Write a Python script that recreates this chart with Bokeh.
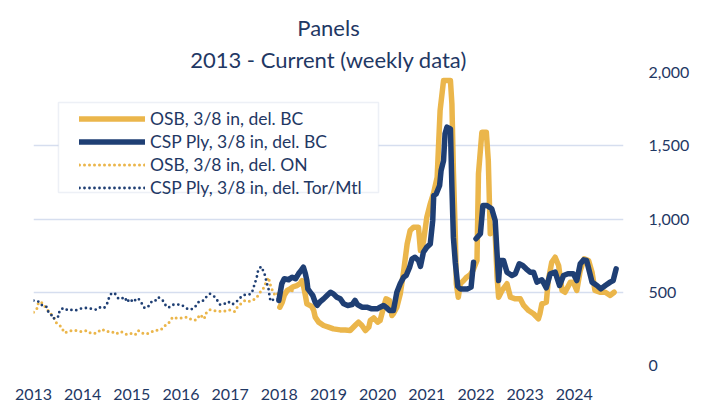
import math
from bokeh.plotting import figure
from bokeh.models import (Range1d, FixedTicker, NumeralTickFormatter, Legend, LegendItem, Title, BoxAnnotation)
from bokeh.embed import file_html
from bokeh.resources import INLINE

NAN = float("nan")

# ---------------- data (decimal year, price) ----------------
osb_on_year = [2013.00, 2013.08, 2013.10, 2013.18, 2013.27, 2013.34, 2013.41, 2013.47, 2013.56, 2013.63,
               2013.71, 2013.78, 2013.85, 2013.97, 2014.08, 2014.17, 2014.27, 2014.39, 2014.48, 2014.59,
               2014.68, 2014.78, 2014.90, 2015.00, 2015.07, 2015.13, 2015.24, 2015.35, 2015.46, 2015.59,
               2015.68, 2015.76, 2015.83, 2015.91, 2015.98, 2016.07, 2016.13, 2016.22, 2016.31, 2016.39,
               2016.47, 2016.52, 2016.59, 2016.67, 2016.76, 2016.86, 2016.98, 2017.09, 2017.15, 2017.23,
               2017.30, 2017.37, 2017.44, 2017.53, 2017.61, 2017.67, 2017.73, 2017.78, 2017.81, 2017.84,
               2017.88, 2017.91, 2017.95, 2018.10, 2018.30]
osb_on_val = [364, 393, 432, 427, 386, 357, 330, 289, 266, 223,
              232, 239, 239, 232, 239, 220, 220, 248, 232, 232,
              216, 232, 211, 220, 211, 239, 216, 220, 239, 243,
              273, 295, 330, 323, 323, 330, 330, 311, 311, 348,
              318, 364, 380, 375, 370, 370, 380, 368, 402, 425,
              443, 436, 443, 459, 500, 523, 568, 602, 561, 523,
              507, 477, 489, 500, 512]

ply_tm_year = [2013.00, 2013.09, 2013.18, 2013.26, 2013.30, 2013.35, 2013.41, 2013.44, 2013.51, 2013.53,
               2013.61, 2013.71, 2013.78, 2013.85, 2013.93, 2014.03, 2014.14, 2014.22, 2014.30, 2014.36,
               2014.44, 2014.50, 2014.54, 2014.59, 2014.66, 2014.73, 2014.78, 2014.86, 2014.90, 2014.96,
               2015.03, 2015.09, 2015.13, 2015.20, 2015.26, 2015.34, 2015.41, 2015.47, 2015.54, 2015.63,
               2015.71, 2015.78, 2015.85, 2015.91, 2016.00, 2016.08, 2016.15, 2016.24, 2016.31, 2016.37,
               2016.46, 2016.52, 2016.59, 2016.67, 2016.75, 2016.79, 2016.86, 2016.96, 2017.04, 2017.12,
               2017.20, 2017.28, 2017.37, 2017.44, 2017.47, 2017.51, 2017.55, 2017.57, 2017.63, 2017.67,
               2017.71, 2017.74, 2017.78, 2017.80, 2017.82, 2017.86, 2017.93, 2017.98, 2018.10]
ply_tm_val = [443, 439, 409, 402, 368, 352, 318, 334, 334, 375,
              393, 375, 380, 375, 386, 393, 391, 382, 382, 398,
              393, 425, 466, 495, 489, 455, 455, 466, 432, 455,
              432, 455, 459, 425, 391, 405, 439, 439, 466, 443,
              398, 398, 416, 416, 416, 398, 382, 386, 409, 439,
              443, 470, 489, 473, 439, 416, 416, 436, 416, 432,
              461, 482, 482, 493, 527, 568, 614, 652, 675, 648,
              614, 568, 523, 477, 439, 448, 448, 455, 470]

osb_bc_year = [2018.01, 2018.06, 2018.10, 2018.16, 2018.22, 2018.29, 2018.36, 2018.43, 2018.46, 2018.49,
               2018.53, 2018.56, 2018.62, 2018.66, 2018.70, 2018.73, 2018.80, 2018.90, 2019.00, 2019.10,
               2019.24, 2019.34, 2019.44, 2019.54, 2019.61, 2019.68, 2019.75, 2019.82, 2019.85, 2019.92,
               2020.00, 2020.05, 2020.12, 2020.17, 2020.24, 2020.29, 2020.32, 2020.39, 2020.46, 2020.53,
               2020.60, 2020.66, 2020.73, 2020.83, 2020.87, 2020.93, 2021.00, 2021.07, 2021.14, 2021.21,
               2021.27, 2021.34, 2021.48, 2021.51, 2021.54, 2021.58, 2021.60, 2021.64, 2021.68, 2021.75,
               2021.81, 2021.88, 2021.94, 2022.02, 2022.05, 2022.12, 2022.21, 2022.25, 2022.29, 2022.33,
               2022.39, 2022.43, 2022.46, 2022.53, 2022.63, 2022.70, 2022.80, 2022.90, 2022.97, 2023.07,
               2023.17, 2023.27, 2023.30, 2023.34, 2023.43, 2023.47, 2023.54, 2023.61, 2023.68, 2023.75,
               2023.81, 2023.92, 2023.98, 2024.05, 2024.12, 2024.20, 2024.29, 2024.36, 2024.42, 2024.52,
               2024.63, 2024.73, 2024.81]
osb_bc_val = [398, 432, 478, 512, 523, 539, 546, 562, 580, 546,
              478, 421, 410, 403, 375, 330, 296, 273, 262, 250,
              243, 243, 239, 273, 296, 273, 239, 262, 307, 325,
              296, 307, 398, 455, 444, 341, 353, 398, 489, 648,
              830, 921, 944, 944, 785, 842, 1012, 1104, 1180, 1285,
              1741, 1945, 1945, 1786, 1331, 876, 558, 466, 558, 580,
              603, 620, 650, 717, 1308, 1593, 1593, 1399, 899, 950,
              900, 600, 466, 512, 558, 466, 455, 455, 410, 375,
              353, 319, 353, 421, 432, 580, 705, 739, 683, 512,
              500, 569, 569, 512, 648, 728, 717, 637, 512, 500,
              500, 478, 500]

ply_bc_year = [2017.99, 2018.05, 2018.10, 2018.19, 2018.26, 2018.33, 2018.39, 2018.44, 2018.49, 2018.53,
               2018.56, 2018.58, 2018.63, 2018.68, 2018.73, 2018.77, 2018.82, 2018.90, 2018.97, 2019.04,
               2019.10, 2019.17, 2019.24, 2019.31, 2019.39, 2019.48, 2019.54, 2019.59, 2019.68, 2019.78,
               2019.88, 2019.99, 2020.05, 2020.12, 2020.17, 2020.24, 2020.32, 2020.39, 2020.46, 2020.53,
               2020.58, 2020.65, 2020.70, 2020.76, 2020.83, 2020.87, 2020.93, 2021.00, 2021.07, 2021.12,
               2021.14, 2021.19, 2021.26, 2021.29, 2021.34, 2021.37, 2021.41, 2021.48, 2021.51, 2021.54,
               2021.58, 2021.63, 2021.68, 2021.75, 2021.83, 2021.90, 2021.95, 2021.97, 2022.00, 2022.09,
               2022.14, 2022.22, 2022.32, 2022.39, 2022.46, 2022.49, 2022.56, 2022.63, 2022.73, 2022.80,
               2022.88, 2022.95, 2023.02, 2023.10, 2023.17, 2023.24, 2023.34, 2023.43, 2023.51, 2023.61,
               2023.70, 2023.78, 2023.87, 2023.98, 2024.05, 2024.12, 2024.19, 2024.25, 2024.36, 2024.46,
               2024.54, 2024.63, 2024.73, 2024.79, 2024.85]
ply_bc_val = [444, 558, 592, 585, 603, 592, 626, 648, 671, 626,
              580, 523, 500, 478, 432, 410, 432, 455, 478, 500,
              489, 466, 455, 421, 410, 416, 444, 416, 398, 398,
              387, 387, 398, 410, 398, 375, 375, 500, 560, 603,
              614, 671, 728, 739, 717, 676, 773, 808, 830, 990,
              1160, 1171, 1229, 1331, 1399, 1581, 1627, 1615, 1217, 876,
              700, 540, 523, 523, 523, 535, 705, NAN, 865, 899,
              1092, 1092, 1070, 990, 580, 717, 717, 637, 614, 626,
              694, 683, 660, 637, 637, 569, 585, 530, 626, 637,
              546, 614, 626, 626, 580, 694, 721, 717, 569, 546,
              523, 546, 569, 580, 660]

year_ticks = list(range(2013, 2025))
value_ticks = [0, 500, 1000, 1500, 2000]

series_labels = ["OSB, 3/8 in, del. BC", "CSP Ply, 3/8 in, del. BC",
                 "OSB, 3/8 in, del. ON", "CSP Ply, 3/8 in, del. Tor/Mtl"]

# ---------------- style ----------------
GOLD = "#EBB64B"
NAVY = "#1F3F74"
TEXT = "#1F3864"
GRID = "#D6DEEF"
FONT = "Lato"

p = figure(width=705, height=402, x_range=Range1d(2013, 2025), y_range=Range1d(0, 2000),
           output_backend="svg", toolbar_location=None, y_axis_location="right",
           min_border_left=33, min_border_right=82, min_border_top=72, min_border_bottom=37)
p.title = None
p.outline_line_color = None
p.background_fill_color = "white"
p.border_fill_color = "white"

t2 = Title(text="2013 - Current (weekly data)", align="center", text_font=FONT, offset=4,
           text_font_size="22px", text_font_style="normal", text_color=TEXT, standoff=0)
t1 = Title(text="Panels", align="center", text_font=FONT, offset=4,
           text_font_size="22px", text_font_style="normal", text_color=TEXT, standoff=5)
p.add_layout(t2, "above")
p.add_layout(t1, "above")

p.xgrid.grid_line_color = None
p.ygrid.grid_line_color = GRID
p.ygrid.grid_line_width = 1.5

xa = p.xaxis[0]
xa.ticker = FixedTicker(ticks=year_ticks)
xa.major_label_overrides = {y: str(y) for y in year_ticks}
ya = p.yaxis[0]
ya.ticker = FixedTicker(ticks=value_ticks)
ya.formatter = NumeralTickFormatter(format="0,0")
for ax in (xa, ya):
    ax.axis_line_color = None
    ax.major_tick_line_color = None
    ax.minor_tick_line_color = None
    ax.major_label_text_font = FONT
    ax.major_label_text_font_size = "16px"
    ax.major_label_text_color = TEXT
xa.major_label_standoff = 17
ya.major_label_standoff = 19

r3 = p.line(osb_on_year, osb_on_val, line_color=GOLD, line_width=3, line_dash="0 5", line_cap="round")
r4 = p.line(ply_tm_year, ply_tm_val, line_color=NAVY, line_width=2.8, line_dash="0 5", line_cap="round")
r1 = p.line(osb_bc_year, osb_bc_val, line_color=GOLD, line_width=5.5, line_join="round", line_cap="round")
r2 = p.line(ply_bc_year, ply_bc_val, line_color=NAVY, line_width=5.5, line_join="round", line_cap="round")

# legend frame (decoration, placed in the upper-left of the plot area)
legend_box = BoxAnnotation(left=2013.508, right=2020.017, bottom=1181, top=1795,
                           fill_color="white", fill_alpha=1.0,
                           line_color="#C5CEE0", line_width=1.5)
p.add_layout(legend_box)

legend = Legend(items=[LegendItem(label=series_labels[0], renderers=[r1]),
                       LegendItem(label=series_labels[1], renderers=[r2]),
                       LegendItem(label=series_labels[2], renderers=[r3]),
                       LegendItem(label=series_labels[3], renderers=[r4])],
                location=(46, 167), margin=0, padding=0, spacing=2,
                glyph_width=66, glyph_height=21, label_height=21, label_standoff=5,
                label_text_font=FONT, label_text_font_size="17.5px", label_text_color=TEXT,
                border_line_color=None, background_fill_alpha=0.0)
p.add_layout(legend, "center")

open("out.html", "w").write(file_html(p, INLINE))
